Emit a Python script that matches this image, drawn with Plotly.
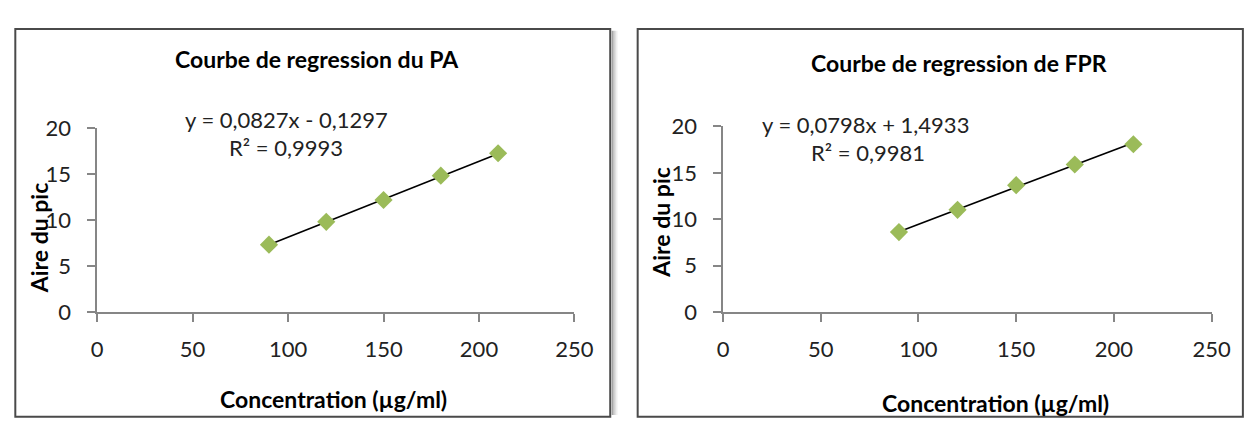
import numpy as np
import plotly.graph_objects as go

# ---- data ----
concentration = [90, 120, 150, 180, 210]
aire_pa = [7.33, 9.81, 12.19, 14.84, 17.28]
aire_fpr = [8.63, 11.02, 13.68, 15.90, 18.08]
slope_pa, intercept_pa, r2_pa = 0.0827, -0.1297, 0.9993
slope_fpr, intercept_fpr, r2_fpr = 0.0798, 1.4933, 0.9981
titles = ["Courbe de regression du PA", "Courbe de regression de FPR"]
x_title = "Concentration (µg/ml)"
y_title = "Aire du pic"
x_ticks = [0, 50, 100, 150, 200, 250]
y_ticks = [0, 5, 10, 15, 20]

W, H = 1256, 428
FONT = "Lato"
GREEN = "#9BBB59"
AXIS = "#868686"

def px(x):
    return x / W

def py(y):
    return 1 - y / H

fig = go.Figure()

def fmt(v):
    return f"{abs(v):.4f}".replace(".", ",")

panels = [
    dict(ys=aire_pa, m=slope_pa, b=intercept_pa, r2=r2_pa, xa="x", ya="y",
         xd=[93, 580], yd=[318, 122], eq_x=286, eq_y=113, r_x=286, r_y=142,
         title_x=317, title_y=48, ytitle_x=34, ytitle_y=239, xtitle_x=334, xtitle_y=411),
    dict(ys=aire_fpr, m=slope_fpr, b=intercept_fpr, r2=r2_fpr, xa="x2", ya="y2",
         xd=[731.7, 1230], yd=[318.3, 120], eq_x=877, eq_y=118, r_x=879, r_y=148,
         title_x=972, title_y=52, ytitle_x=668, ytitle_y=222, xtitle_x=1010, xtitle_y=415),
]

annotations = []
for i, p in enumerate(panels):
    xs = np.array([min(concentration), max(concentration)], dtype=float)
    fig.add_trace(go.Scatter(x=xs, y=p["m"] * xs + p["b"], mode="lines",
                             line=dict(color="black", width=1.6),
                             xaxis=p["xa"], yaxis=p["ya"], showlegend=False, hoverinfo="skip"))
    fig.add_trace(go.Scatter(x=concentration, y=p["ys"], mode="markers",
                             marker=dict(symbol="diamond", size=14, color=GREEN,
                                         line=dict(width=0)),
                             xaxis=p["xa"], yaxis=p["ya"], showlegend=False))
    sign = "-" if p["b"] < 0 else "+"
    annotations += [
        dict(text=f"<b>{titles[i]}</b>", x=px(p["title_x"]), y=py(p["title_y"]),
             font=dict(size=23, color="black", family=FONT)),
        dict(text=f"y = {p['m']:.4f}".replace(".", ",") + f"x {sign} {fmt(p['b'])}",
             x=px(p["eq_x"]), y=py(p["eq_y"]), font=dict(size=22, color="#222", family=FONT)),
        dict(text=f"R² = {p['r2']:.4f}".replace(".", ","),
             x=px(p["r_x"]), y=py(p["r_y"]), font=dict(size=22, color="#222", family=FONT)),
        dict(text=f"<b>{y_title}</b>", x=px(p["ytitle_x"]), y=py(p["ytitle_y"]), textangle=-90,
             font=dict(size=23, color="black", family=FONT)),
        dict(text=f"<b>{x_title}</b>", x=px(p["xtitle_x"]), y=py(p["xtitle_y"]),
             font=dict(size=23, color="black", family=FONT)),
    ]
    axis_common = dict(showgrid=False, zeroline=False, showline=True, linecolor=AXIS,
                       linewidth=1.5, ticks="outside", ticklen=8, tickcolor=AXIS, tickwidth=1.5,
                       tickfont=dict(size=22, color="#222", family=FONT))
    suffix = "" if i == 0 else "2"
    fig.update_layout(**{
        f"xaxis{suffix}": dict(axis_common, domain=[px(p["xd"][0]), px(p["xd"][1])],
                               range=[0, 250], tickvals=x_ticks, anchor=f"y{suffix}",
                               ticklabelstandoff=9),
        f"yaxis{suffix}": dict(axis_common, domain=[py(p["yd"][0]), py(p["yd"][1])],
                               range=[0, 20], tickvals=y_ticks, anchor=f"x{suffix}",
                               ticklabelstandoff=12),
    })

for a in annotations:
    a.update(xref="paper", yref="paper", showarrow=False, xanchor="center", yanchor="middle")

shapes = []
# shadow of the left panel
for k, op in enumerate([0.35, 0.22, 0.12, 0.06]):
    shapes.append(dict(type="rect", xref="paper", yref="paper",
                       x0=px(618 + k * 1.5), x1=px(619.5 + k * 1.5), y0=0, y1=py(18),
                       line=dict(width=0), fillcolor=f"rgba(0,0,0,{op})"))
shapes.append(dict(type="rect", xref="paper", yref="paper", x0=px(9.5), x1=px(616.5),
                   y0=py(430), y1=py(16), line=dict(color="#4a4a4a", width=2)))
shapes.append(dict(type="rect", xref="paper", yref="paper", x0=px(644.5), x1=px(1262),
                   y0=py(430), y1=py(16), line=dict(color="#4a4a4a", width=2)))

fig.update_layout(width=W, height=H, margin=dict(l=0, r=0, t=0, b=0),
                  paper_bgcolor="white", plot_bgcolor="rgba(0,0,0,0)",
                  annotations=annotations, shapes=shapes, font=dict(family=FONT))
fig.write_html("out.html", config={"displayModeBar": False},
               post_script="document.body.style.margin='0';document.body.style.overflow='hidden';")
